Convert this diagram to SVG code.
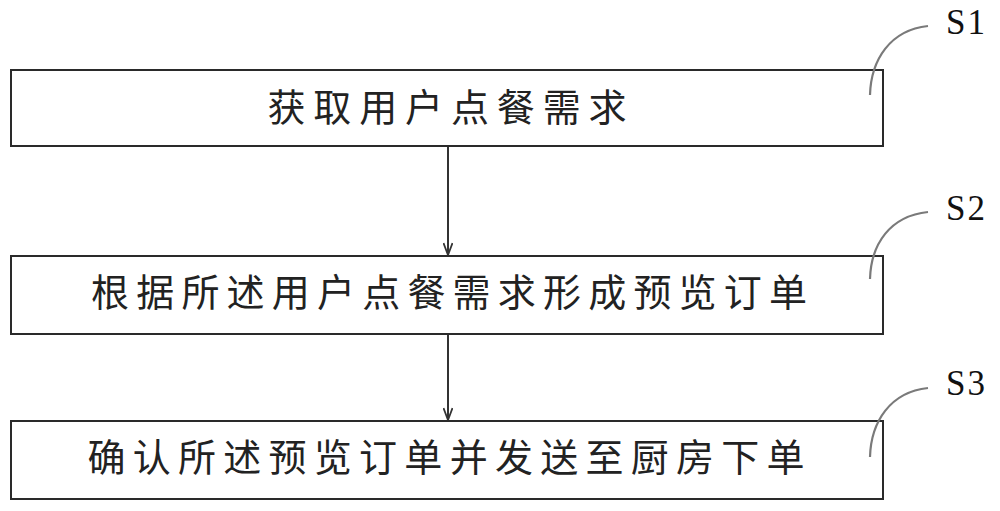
<svg xmlns="http://www.w3.org/2000/svg" width="1000" height="511" viewBox="0 0 1000 511">
<defs>
<style>
.box{fill:#fff;stroke:#2a2a2a;stroke-width:2}
.lbl{font-family:"Noto Sans CJK SC",sans-serif;font-size:38px;fill:#222;text-anchor:middle}
.tag{font-family:"Liberation Serif",serif;font-size:35px;fill:#111;letter-spacing:2px}
.lead{fill:none;stroke:#7a7a7a;stroke-width:2.2}
.edge{stroke:#333;stroke-width:2;fill:none}
</style>
<marker id="arr" viewBox="0 0 14 10" refX="13" refY="5" markerWidth="14" markerHeight="10" markerUnits="userSpaceOnUse" orient="auto">
<path d="M1,0.5 L13,5 L1,9.5" fill="none" stroke="#333" stroke-width="1.8"/>
</marker>
</defs>
<rect width="1000" height="511" fill="#fff"/>
<g id="connectors">
<line class="edge" x1="448" y1="147" x2="448" y2="255" marker-end="url(#arr)"/>
<line class="edge" x1="448" y1="335" x2="448" y2="420" marker-end="url(#arr)"/>
</g>
<g id="S1">
<rect class="box" x="11" y="70" width="872" height="76"/>
<text class="lbl" x="447" y="121" textLength="359" lengthAdjust="spacing">获取用户点餐需求</text>
<path class="lead" d="M870,95 C871,60 890,30 928,26"/>
<text class="tag" x="946" y="34">S1</text>
</g>
<g id="S2">
<rect class="box" x="11" y="256" width="872" height="78"/>
<text class="lbl" x="449" y="306" textLength="716" lengthAdjust="spacing">根据所述用户点餐需求形成预览订单</text>
<path class="lead" d="M870,279 C871,244 890,216 928,212"/>
<text class="tag" x="946" y="220">S2</text>
</g>
<g id="S3">
<rect class="box" x="11" y="421" width="872" height="78"/>
<text class="lbl" x="446" y="471" textLength="717" lengthAdjust="spacing">确认所述预览订单并发送至厨房下单</text>
<path class="lead" d="M870,457 C871,422 890,392 928,388"/>
<text class="tag" x="946" y="395">S3</text>
</g>
</svg>
